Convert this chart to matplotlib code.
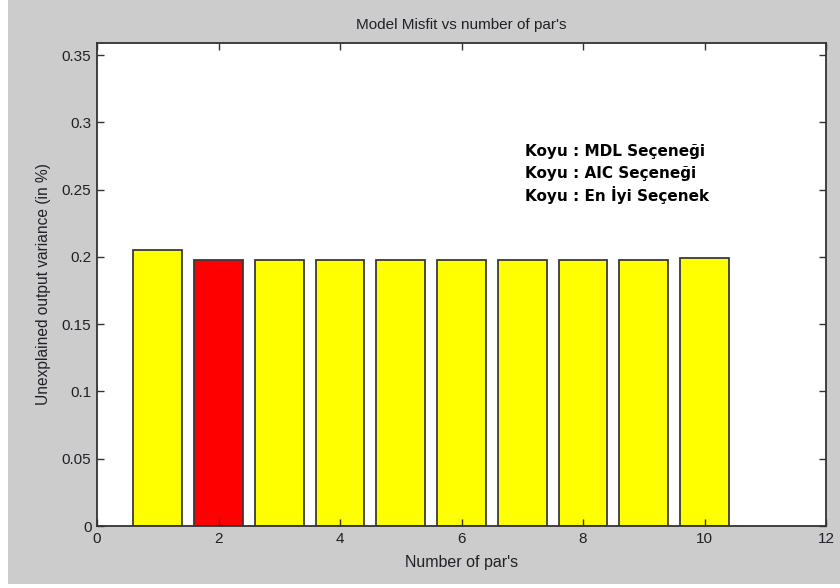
import matplotlib
matplotlib.use("Agg")
import matplotlib.pyplot as plt
from matplotlib.patches import Rectangle

# Model misfit per number of parameters
n_params = [1, 2, 3, 4, 5, 6, 7, 8, 9, 10]
misfit = [0.205, 0.1978, 0.1978, 0.1978, 0.1978, 0.1978, 0.1978, 0.1978, 0.1978, 0.1990]
colors = ["#ffff00", "#ff0000", "#ffff00", "#ffff00", "#ffff00",
          "#ffff00", "#ffff00", "#ffff00", "#ffff00", "#ffff00"]
legend_lines = ["Koyu : MDL Seçeneği", "Koyu : AIC Seçeneği", "Koyu : En İyi Seçenek"]
xticks = [0, 2, 4, 6, 8, 10, 12]
yticks = [0, 0.05, 0.1, 0.15, 0.2, 0.25, 0.3, 0.35]
ytick_labels = ["0", "0.05", "0.1", "0.15", "0.2", "0.25", "0.3", "0.35"]

W, H = 840, 588
fig = plt.figure(figsize=(W / 100, H / 100), dpi=100, facecolor="#cccccc")
# thin white frame strips at left and bottom
fig.patches.append(Rectangle((0, 0), 8 / W, 1, transform=fig.transFigure,
                             facecolor="white", edgecolor="none", zorder=-1))
fig.patches.append(Rectangle((0, 0), 1, 4 / H, transform=fig.transFigure,
                             facecolor="white", edgecolor="none", zorder=-1))

left, right, top, bottom = 97, 826, 43, 526
ax = fig.add_axes([left / W, 1 - bottom / H, (right - left) / W, (bottom - top) / H])
ax.set_facecolor("white")

ax.bar(n_params, misfit, width=0.8, color=colors, edgecolor="#3a3a3a", linewidth=1.3)

ax.set_xlim(0, 12)
ax.set_ylim(0, 0.359)
ax.set_xticks(xticks)
ax.set_yticks(yticks)
ax.set_yticklabels(ytick_labels)

font = "Liberation Sans"
txt_color = "#202028"
ax.tick_params(direction="in", length=5, width=1, color="#333333",
               top=True, right=True, labelsize=11, labelcolor=txt_color, pad=4)
for lbl in ax.get_xticklabels() + ax.get_yticklabels():
    lbl.set_fontfamily(font)
for s in ax.spines.values():
    s.set_color("#333333")
    s.set_linewidth(1.3)

ax.set_title("Model Misfit vs number of par's", fontsize=11, family=font,
             color=txt_color, pad=10)
ax.set_xlabel("Number of par's", fontsize=11.5, family=font, color=txt_color, labelpad=7)
ax.set_ylabel("Unexplained output variance (in %)", fontsize=11.2, family=font,
              color=txt_color, labelpad=8)

for txt, y in zip(legend_lines, [0.278, 0.262, 0.246]):
    ax.text(7.04, y, txt, fontsize=11, fontweight="bold", family="DejaVu Sans",
            color="black", va="center", ha="left")

fig.savefig("out.png", dpi=100, facecolor=fig.get_facecolor())
